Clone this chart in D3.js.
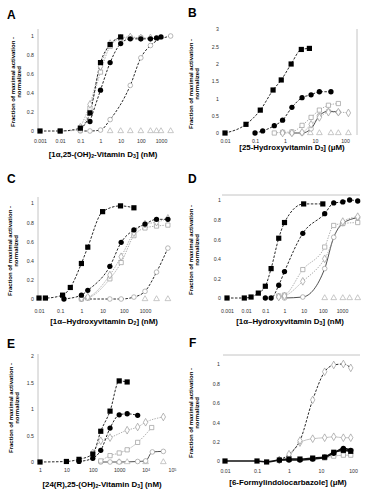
<!DOCTYPE html>
<html>
<head>
<meta charset='utf-8'>
<title>Dose response panels</title>
<script src='https://cdn.jsdelivr.net/npm/d3@7'></script>
<style>
  body { margin: 0; background: #fff; }
  svg { display: block; font-family: 'Liberation Sans', Arial, sans-serif; }
</style>
</head>
<body>
<svg width='375' height='500'></svg>
<script>
// ---- data: [concentration, normalized activation] ----
const aSquare = [[0.001,0],[0.01,0],[0.1,0.03],[0.3,0.19],[1,0.72],[3,0.91],[10,0.99]]
const aCircle = [[0.3,0.1],[1,0.43],[3,0.72],[10,0.92],[30,0.97],[100,0.97],[300,0.97],[600,0.98],[1000,0.99]]
const aOpenSquare = [[0.01,0],[0.1,0.01],[0.3,0.24],[1,0.62],[3,0.89],[10,0.97],[30,0.98],[100,0.98]]
const aDiamond = [[0.1,0.04],[0.3,0.28],[1,0.68],[3,0.92],[10,0.98],[30,0.99],[100,0.98],[300,0.98]]
const aOpenCircle = [[0.1,0],[0.3,0],[1,0.01],[3,0.12],[30,0.48],[100,0.77],[300,0.9],[3000,1.0]]
const aTriangle = [[3,0],[10,0],[30,0],[100,0],[300,0],[600,0],[1000,0],[3000,0]]

const bSquare = [[0.01,0],[0.05,0.25],[0.15,0.66],[0.4,1.24],[0.75,1.53],[1.6,1.99],[3.5,2.41],[6.5,2.44]]
const bCircle = [[0.1,0],[0.18,0.06],[0.44,0.21],[0.83,0.37],[1.7,0.74],[3.7,1.02],[7.4,1.1],[14,1.19],[34,1.19]]
const bOpenSquare = [[0.44,0],[0.83,0.02],[1.7,0.03],[3.7,0.22],[7.4,0.45],[14,0.66],[28,0.8],[60,0.85]]
const bDiamond = [[0.83,0],[1.7,0],[3.7,0.02],[7.4,0.25],[14,0.45],[28,0.6],[60,0.6],[130,0.58]]
const bOpenCircle = [[1.7,0],[3.7,0],[7.4,0.12],[14,0.5],[28,0.63],[60,0.6]]
const bTriangle = [[7,0],[14,0],[34,0],[60,0],[130,0]]

const cSquare = [[0.01,0.01],[0.02,0.01],[0.13,0.04],[0.3,0.12],[1,0.37],[2,0.54],[10,0.91],[70,0.97],[300,0.95]]
const cCircle = [[0.15,0],[1,0.04],[2,0.09],[22,0.34],[75,0.59],[300,0.72],[1000,0.78],[3500,0.83],[12000,0.83]]
const cOpenSquare = [[1,0],[2,0.01],[22,0.21],[75,0.38],[300,0.66],[1000,0.74],[3500,0.76],[12000,0.77]]
const cDiamond = [[1,0.01],[2,0.02],[22,0.25],[75,0.44],[300,0.69],[1000,0.78],[3500,0.8],[12000,0.84]]
const cOpenCircle = [[1,0],[22,0],[75,0],[300,0.02],[1000,0.08],[3500,0.28],[12000,0.53]]
const cTriangle = [[1000,0],[3500,0],[12000,0]]

const dSquare = [[0.001,0],[0.008,0],[0.018,0.01],[0.043,0.05],[0.1,0.12],[0.2,0.3],[0.5,0.61],[1,0.77],[10,0.96],[100,0.96]]
const dCircle = [[0.1,0],[0.2,0],[0.5,0.13],[1,0.27],[9,0.66],[125,0.86],[370,0.97],[1100,0.98],[2500,1.0],[6600,0.99]]
const dOpenSquare = [[0.5,0.02],[1,0.03],[9,0.29],[125,0.52],[370,0.74],[1100,0.76],[6600,0.77]]
const dDiamond = [[0.5,0.01],[1,0.02],[9,0.17],[125,0.4],[1100,0.78],[6600,0.83]]
const dOpenCircle = [[1,0],[9,0.01],[125,0.3],[370,0.62],[1100,0.76],[6600,0.82]]
const dTriangle = [[125,0],[370,0],[1100,0],[2500,0],[6600,0]]

const eSquare = [[1,0],[10,0.01],[30,0.05],[100,0.15],[200,0.58],[450,0.96],[1000,1.53],[2000,1.51]]
const eCircle = [[30,0.01],[100,0.07],[200,0.22],[450,0.64],[1000,0.89],[2000,0.91],[5000,0.88]]
const eDiamond = [[100,0.17],[200,0.4],[450,0.46],[2000,0.6],[5000,0.66],[10000,0.75],[47000,0.85]]
const eOpenSquare = [[200,0.02],[450,0.12],[1000,0.17],[2000,0.23],[5000,0.37],[17000,0.65]]
const eOpenCircle = [[200,0],[450,0],[1000,0],[5000,0.01],[10000,0.02],[18000,0.19],[47000,0.2]]
const eTriangle = [[1000,0],[2000,0],[10000,0],[47000,0]]

const fSquare = [[0.01,0],[0.1,0],[0.2,-0.01],[0.5,0.01],[1,0.02],[2.2,0.02],[5.5,0.03],[13,0.04],[25,0.09],[50,0.11],[85,0.1]]
const fCircle = [[0.5,0.01],[1,0.01],[2.2,0.01],[5.5,0.02],[13,0.04],[25,0.08],[50,0.13],[85,0.11]]
const fDiamond = [[0.5,0.01],[1,0.07],[2.2,0.21],[5.5,0.63],[13,0.92],[25,0.99],[50,1.0],[85,0.96]]
const fDiamondLow = [[0.5,0.01],[1,0.05],[2.2,0.19],[5.5,0.23],[13,0.24],[25,0.25],[50,0.24],[85,0.24]]
const fOpenSquare = [[5.5,0.02],[13,0.03],[25,0.05],[50,0.06],[85,0.06]]

// ---- tick labels ----
const unitTicks = [0, 0.2, 0.4, 0.6, 0.8, 1]
const unitLabels = ['0', '0.2', '0.4', '0.6', '0.8', '1']
const bYTicks = [0, 0.5, 1, 1.5, 2, 2.5, 3]
const bYLabels = ['0', '0.5', '1', '1.5', '2', '2.5', '3']
const eYTicks = [0, 0.5, 1, 1.5, 2]
const eYLabels = ['0', '0.5', '1', '1.5', '2']
const xTicks3 = [0.001, 0.01, 0.1, 1, 10, 100, 1000]
const xLabels3 = ['0.001', '0.01', '0.1', '1', '10', '100', '1000']
const xTicks2 = [0.01, 0.1, 1, 10, 100, 1000]
const xLabels2 = ['0.01', '0.1', '1', '10', '100', '1000']
const xTicksB = [0.01, 0.1, 1, 10, 100]
const xLabelsB = ['0.01', '0.1', '1', '10', '100']
const eXTicks = [1, 10, 100, 1000, 1e4, 1e5]
const eXLabels = ['1', '10', '100', '1000', '10^4', '10^5']

const yTitle = ['Fraction of maximal activation -', 'normalized']

const svg = d3.select('svg')

// marker styles
const markers = {
  square:     { type: d3.symbolSquare,   size: 27, fill: '#000', stroke: 'none' },
  circle:     { type: d3.symbolCircle,   size: 22, fill: '#000', stroke: 'none' },
  openSquare: { type: d3.symbolSquare,   size: 18, fill: '#fff', stroke: '#999' },
  diamond:    { type: d3.symbolDiamond,  size: 17, fill: '#fff', stroke: '#999' },
  openCircle: { type: d3.symbolCircle,   size: 17, fill: '#fff', stroke: '#999' },
  triangle:   { type: d3.symbolTriangle, size: 14, fill: '#fff', stroke: '#b0b0b0' }
}
// fit line styles
const lines = {
  dash:      { stroke: '#111', width: 0.9, dash: '2.5,1.5' },
  dot:       { stroke: '#9a9a9a', width: 0.8, dash: '1.4,1.2' },
  solid:     { stroke: '#222', width: 0.8, dash: null },
  thick:     { stroke: '#111', width: 1.6, dash: null },
  graySolid: { stroke: '#aaa', width: 0.7, dash: null }
}

const panels = [
  { id: 'A', letter: [7, 18.5], yLab: [15, 21], yLabCy: 82, yRight: 34, xTickY: 141, title: [103, 157],
    titleParts: [['[1α,25-(OH)'], ['2', 'sub'], ['-Vitamin D'], ['3', 'sub'], ['] (nM)']],
    x: d3.scaleLog().domain([1e-3, 1e3]).range([40, 161]), y: d3.scaleLinear().domain([0, 1]).range([131, 36]),
    xTicks: xTicks3, xLabels: xLabels3, yTicks: unitTicks, yLabels: unitLabels,
    frame: [[38, 29, 38, 131]],
    series: [[aTriangle, 'triangle', null], [aOpenCircle, 'openCircle', 'dash'], [aOpenSquare, 'openSquare', 'dot'],
             [aDiamond, 'diamond', 'dot'], [aCircle, 'circle', 'dash'], [aSquare, 'square', 'dash']] },
  { id: 'B', letter: [188, 17], yLab: [193, 199], yLabCy: 84, yRight: 219, xTickY: 141, title: [292, 150],
    titleParts: [['[25-Hydroxyvitamin D'], ['3', 'sub'], ['] (μM)']],
    x: d3.scaleLog().domain([0.01, 100]).range([225, 345]), y: d3.scaleLinear().domain([0, 3]).range([133, 29]),
    xTicks: xTicksB, xLabels: xLabelsB, yTicks: bYTicks, yLabels: bYLabels,
    frame: [[357, 29, 357, 135]],
    series: [[bTriangle, 'triangle', null], [bOpenCircle, 'openCircle', 'solid'], [bOpenSquare, 'openSquare', 'dot'],
             [bDiamond, 'diamond', 'dot'], [bCircle, 'circle', 'dash'], [bSquare, 'square', 'dash']] },
  { id: 'C', letter: [7, 182.5], yLab: [12, 18], yLabCy: 251, yRight: 34, xTickY: 311, title: [104, 324],
    titleParts: [['[1α–Hydroxyvitamin D'], ['2', 'sub'], ['] (nM)']],
    x: d3.scaleLog().domain([0.01, 1000]).range([39, 145]), y: d3.scaleLinear().domain([0, 1]).range([299, 203]),
    xTicks: xTicks2, xLabels: xLabels2, yTicks: unitTicks, yLabels: unitLabels,
    frame: [[38, 197, 38, 299]],
    series: [[cTriangle, 'triangle', null], [cOpenCircle, 'openCircle', 'dash'], [cOpenSquare, 'openSquare', 'dot'],
             [cDiamond, 'diamond', 'dot'], [cCircle, 'circle', 'dash'], [cSquare, 'square', 'dash']] },
  { id: 'D', letter: [188, 182.5], yLab: [193, 199], yLabCy: 250, yRight: 221, xTickY: 311, title: [290, 324],
    titleParts: [['[1α–Hydroxyvitamin D'], ['3', 'sub'], ['] (nM)']],
    x: d3.scaleLog().domain([0.001, 1000]).range([227, 342]), y: d3.scaleLinear().domain([0, 1]).range([298, 200]),
    xTicks: xTicks3, xLabels: xLabels3, yTicks: unitTicks, yLabels: unitLabels,
    frame: [[222, 195, 360, 195]],
    series: [[dTriangle, 'triangle', null], [dOpenCircle, 'openCircle', 'solid'], [dOpenSquare, 'openSquare', 'dot'],
             [dDiamond, 'diamond', 'dot'], [dCircle, 'circle', 'dash'], [dSquare, 'square', 'dash']] },
  { id: 'E', letter: [7, 347.5], yLab: [13, 19], yLabCy: 408, yRight: 34, xTickY: 470, title: [102, 487],
    titleParts: [['[24(R),25-(OH)'], ['2', 'sub'], ['-Vitamin D'], ['3', 'sub'], ['] (nM)']],
    x: d3.scaleLog().domain([1, 1e5]).range([40, 172]), y: d3.scaleLinear().domain([0, 2]).range([462, 356]),
    xTicks: eXTicks, xLabels: eXLabels, yTicks: eYTicks, yLabels: eYLabels,
    frame: [[38, 354, 38, 462]],
    series: [[eTriangle, 'triangle', null], [eOpenCircle, 'openCircle', 'solid'], [eOpenSquare, 'openSquare', 'dot'],
             [eDiamond, 'diamond', 'dot'], [eCircle, 'circle', 'dash'], [eSquare, 'square', 'dash']] },
  { id: 'F', letter: [189, 346.5], yLab: [193, 199], yLabCy: 413, yRight: 220, xTickY: 471, title: [288, 485],
    titleParts: [['[6-Formylindolocarbazole] (μM)']],
    x: d3.scaleLog().domain([0.01, 100]).range([225, 353]), y: d3.scaleLinear().domain([0, 1]).range([461, 364]),
    xTicks: xTicksB, xLabels: xLabelsB, yTicks: unitTicks, yLabels: unitLabels,
    frame: [[223, 355, 360, 355]],
    series: [[fOpenSquare, 'openSquare', 'graySolid'], [fDiamondLow, 'diamond', 'graySolid'], [fDiamond, 'diamond', 'dash'],
             [fCircle, 'circle', 'thick'], [fSquare, 'square', 'thick']] }
]

function drawPanel(p) {
  const g = svg.append('g')

  // partial plot frame (light grey)
  p.frame.forEach(f => g.append('line')
    .attr('x1', f[0]).attr('y1', f[1]).attr('x2', f[2]).attr('y2', f[3])
    .attr('stroke', '#c4c4c4').attr('stroke-width', 1))

  // panel letter
  g.append('text').attr('x', p.letter[0]).attr('y', p.letter[1])
    .attr('font-size', 12).attr('font-weight', 'bold').text(p.id)

  // y title, two lines
  yTitle.forEach((t, i) => g.append('text')
    .attr('transform', `translate(${p.yLab[i]}, ${p.yLabCy}) rotate(-90)`)
    .attr('text-anchor', 'middle').attr('font-size', 6).attr('font-weight', 'bold').text(t))

  // y tick labels
  const yAxis = d3.axisLeft(p.y).tickValues(p.yTicks).tickSize(0).tickPadding(0)
    .tickFormat((d, i) => p.yLabels[i])
  g.append('g').attr('transform', `translate(${p.yRight}, 0)`).call(yAxis)
    .attr('font-size', null).attr('font-family', null)
    .call(s => s.select('.domain').remove())
    .selectAll('text').attr('font-size', 5.2).attr('fill', '#333').attr('dy', '0.35em')

  // x tick labels
  const xAxis = d3.axisBottom(p.x).tickValues(p.xTicks).tickSize(0).tickPadding(0)
    .tickFormat((d, i) => p.xLabels[i])
  const xg = g.append('g').attr('transform', `translate(0, ${p.xTickY - 1.8})`).call(xAxis)
    .attr('font-size', null).attr('font-family', null)
    .call(s => s.select('.domain').remove())
  xg.selectAll('text').attr('font-size', 5.2).attr('fill', '#333')
    .each(function (d, i) {
      const lab = p.xLabels[i]
      if (lab.includes('^')) {
        const [base, exp] = lab.split('^')
        const t = d3.select(this).text(base)
        t.append('tspan').attr('dy', '-0.3em').attr('font-size', 3.8).text(exp)
      }
    })

  // x title
  const tt = g.append('text').attr('x', p.title[0]).attr('y', p.title[1])
    .attr('text-anchor', 'middle').attr('font-size', 7.9).attr('font-weight', 'bold')
  p.titleParts.forEach(part => {
    const sp = tt.append('tspan').text(part[0])
    if (part[1] === 'sub') sp.attr('font-size', 5.2).attr('dy', '0.25em')
    else if (tt.selectAll('tspan').size() > 1) sp.attr('dy', '-0.17em')
  })

  // fit lines
  const line = d3.line().x(d => p.x(d[0])).y(d => p.y(d[1])).curve(d3.curveMonotoneX)
  p.series.forEach(([data, , style]) => {
    if (!style) return
    const ls = lines[style]
    g.append('path').datum(data).attr('d', line)
      .attr('fill', 'none').attr('stroke', ls.stroke).attr('stroke-width', ls.width)
      .attr('stroke-dasharray', ls.dash)
  })

  // markers
  p.series.forEach(([data, mk]) => {
    const m = markers[mk]
    g.append('g').selectAll('path').data(data).join('path')
      .attr('transform', d => `translate(${p.x(d[0])}, ${p.y(d[1])})`)
      .attr('d', d3.symbol().type(m.type).size(m.size))
      .attr('fill', m.fill).attr('stroke', m.stroke).attr('stroke-width', 0.7)
  })
}

panels.forEach(drawPanel)
</script>
</body>
</html>
